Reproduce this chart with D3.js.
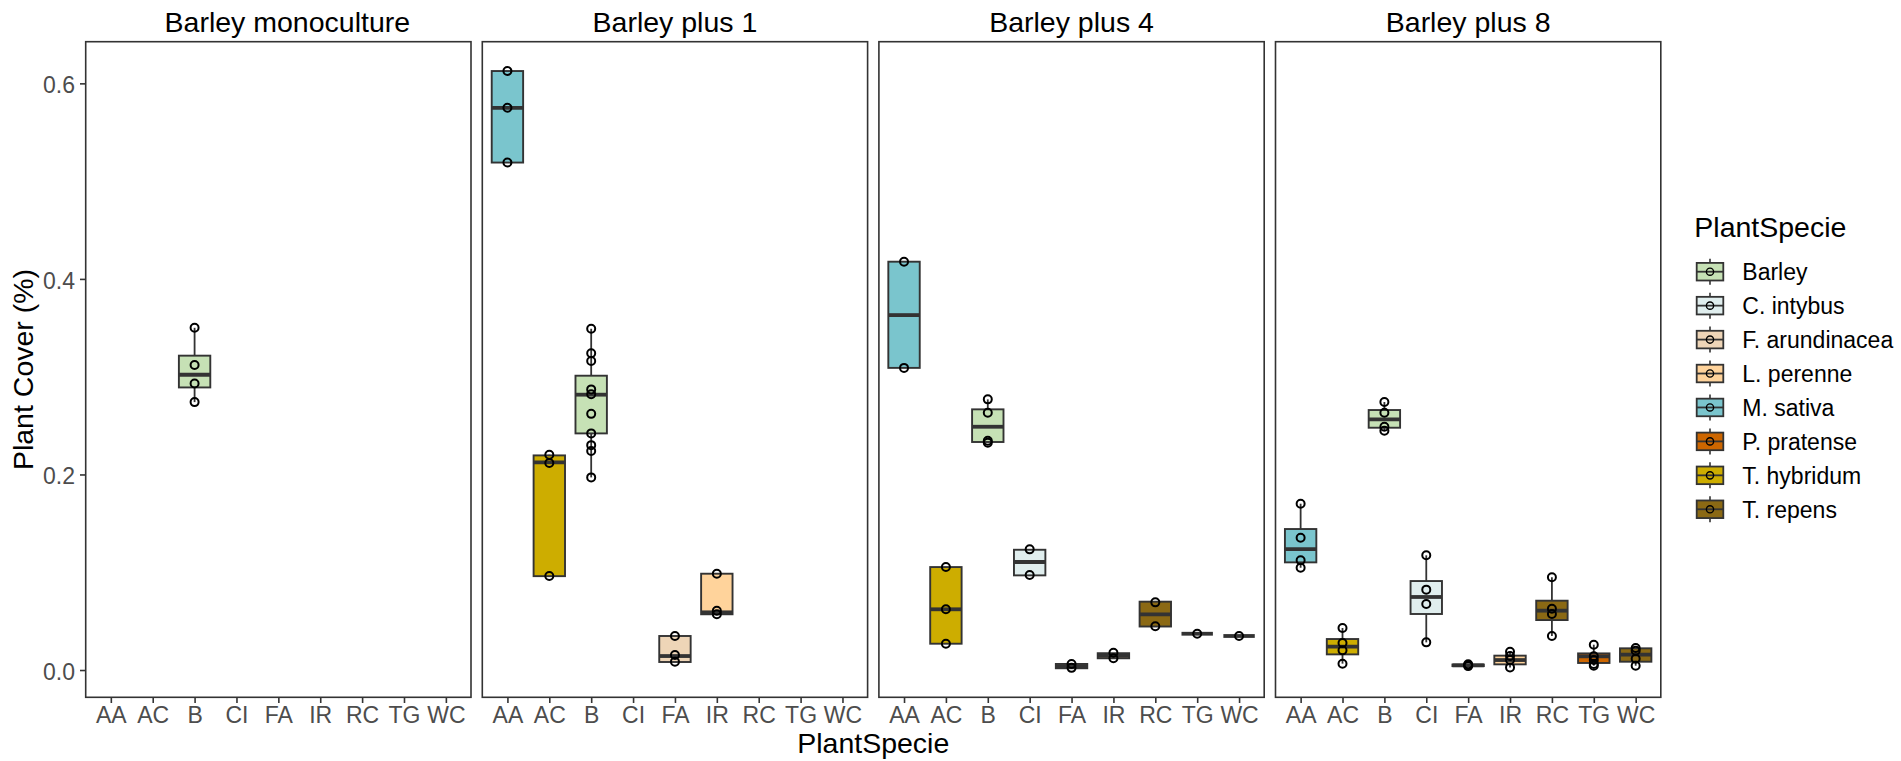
<!DOCTYPE html>
<html>
<head>
<meta charset="utf-8">
<script src="https://cdn.jsdelivr.net/npm/d3@7"></script>
<style>
  body { margin: 0; background: #fff; }
  svg { display: block; font-family: "Liberation Sans", Arial, Helvetica, sans-serif; }
</style>
</head>
<body>
<svg id="chart" width="1901" height="761"></svg>
<script>
// Facets (one panel each) and the species codes on the x axis
const facets = ["Barley monoculture", "Barley plus 1", "Barley plus 4", "Barley plus 8"];
const categories = ["AA", "AC", "B", "CI", "FA", "IR", "RC", "TG", "WC"];
// Species that each code belongs to (fill colour key)
const codeSpecies = ["M. sativa", "T. hybridum", "Barley", "C. intybus", "F. arundinacea",
                     "L. perenne", "T. repens", "P. pratense", "T. repens"];
const species = ["Barley", "C. intybus", "F. arundinacea", "L. perenne",
                 "M. sativa", "P. pratense", "T. hybridum", "T. repens"];
const speciesColors = ["#C6E1B5", "#E0EEEE", "#EED5B7", "#FFD39B",
                       "#7AC5CD", "#CD6600", "#CDAD00", "#8B6914"];
const yTicks = [0, 0.2, 0.4, 0.6];

// Box summaries per facet: [code, [lower whisker, Q1, median, Q3, upper whisker], observations]
const monoBoxes = [
  ["B", [0.274, 0.289, 0.302, 0.3215, 0.350], [0.350, 0.312, 0.293, 0.274]]
];
const plus1Boxes = [
  ["AA", [0.519, 0.519, 0.575, 0.6126, 0.6126], [0.6126, 0.575, 0.519]],
  ["AC", [0.096, 0.096, 0.2124, 0.2195, 0.2202], [0.2202, 0.2117, 0.0961]],
  ["B",  [0.197, 0.242, 0.2816, 0.301, 0.349],
         [0.349, 0.324, 0.316, 0.287, 0.282, 0.262, 0.242, 0.230, 0.224, 0.197]],
  ["FA", [0.0082, 0.0082, 0.0143, 0.0348, 0.0348], [0.0348, 0.0153, 0.0085]],
  ["IR", [0.057, 0.057, 0.059, 0.0985, 0.0985], [0.0985, 0.0607, 0.057]]
];
const plus4Boxes = [
  ["AA", [0.309, 0.309, 0.363, 0.4176, 0.4176], [0.4176, 0.309]],
  ["AC", [0.0269, 0.0269, 0.0621, 0.1053, 0.1053], [0.1053, 0.0621, 0.0269]],
  ["B",  [0.2332, 0.2332, 0.2488, 0.2666, 0.2768], [0.2768, 0.2632, 0.2345, 0.2325]],
  ["CI", [0.0968, 0.0968, 0.1105, 0.123, 0.123], [0.1234, 0.0972]],
  ["FA", [0.0018, 0.0018, 0.004, 0.0062, 0.0062], [0.0061, 0.0022]],
  ["IR", [0.012, 0.012, 0.0145, 0.0172, 0.0172], [0.0177, 0.012]],
  ["RC", [0.0445, 0.0445, 0.057, 0.0699, 0.0699], [0.0692, 0.0447]],
  ["TG", [0.0371, 0.0371, 0.0371, 0.0371, 0.0371], [0.0371]],
  ["WC", [0.0348, 0.0348, 0.0348, 0.0348, 0.0348], [0.0348]]
];
const plus8Boxes = [
  ["AA", [0.1046, 0.1101, 0.1237, 0.1442, 0.1701], [0.1701, 0.1353, 0.1122, 0.1046]],
  ["AC", [0.0065, 0.016, 0.0239, 0.0317, 0.043], [0.043, 0.0276, 0.0201, 0.0065]],
  ["B",  [0.2447, 0.2478, 0.2564, 0.2659, 0.2741], [0.2741, 0.2632, 0.2488, 0.2447]],
  ["CI", [0.0283, 0.0573, 0.0747, 0.091, 0.1173], [0.1173, 0.0822, 0.0675, 0.0283]],
  ["FA", [0.0038, 0.004, 0.0048, 0.0056, 0.0058], [0.0058, 0.0048, 0.004]],
  ["IR", [0.0027, 0.0058, 0.0102, 0.0147, 0.0187], [0.0187, 0.0143, 0.0102, 0.0027]],
  ["RC", [0.0348, 0.0511, 0.0607, 0.0709, 0.0948], [0.0948, 0.0627, 0.0573, 0.0348]],
  ["TG", [0.0044, 0.0072, 0.014, 0.017, 0.0259], [0.0259, 0.014, 0.0102, 0.0061, 0.0044]],
  ["WC", [0.0044, 0.0085, 0.0157, 0.0222, 0.0225], [0.0225, 0.0198, 0.0116, 0.0044]]
];
const facetBoxes = [monoBoxes, plus1Boxes, plus4Boxes, plus8Boxes];

// Layout
const panelLeft = 85.7, panelTop = 41.7, panelW = 385.3, panelH = 655.6, gap = 11.3;
const panelBottom = panelTop + panelH;
const firstStripShift = 9; // the first strip label sits a little right of centre
const ink = "#333333";

const svg = d3.select("#chart");

const y = d3.scaleLinear().domain([-0.0279, 0.6426]).range([panelBottom, panelTop]);
const x = d3.scalePoint().domain(categories).range([0, panelW]).padding(0.6);
const boxW = x.step() * 0.75;
const fill = d3.scaleOrdinal().domain(species).range(speciesColors);
const speciesByCode = new Map(categories.map((c, i) => [c, codeSpecies[i]]));

facets.forEach((name, i) => {
  const g = svg.append("g").attr("transform", `translate(${panelLeft + i * (panelW + gap)},0)`);

  // strip title
  g.append("text")
    .attr("x", panelW / 2 + (i === 0 ? firstStripShift : 0)).attr("y", 31.7)
    .attr("text-anchor", "middle")
    .attr("font-size", 28.5).attr("fill", "#000")
    .text(name);

  // x axis
  const xa = g.append("g").attr("transform", `translate(0,${panelBottom})`)
    .call(d3.axisBottom(x).tickSize(5.7).tickPadding(3.2));
  xa.select(".domain").remove();
  xa.selectAll(".tick line").attr("stroke", ink).attr("stroke-width", 1.6);
  xa.selectAll(".tick text").attr("fill", "#4D4D4D").attr("font-size", 23)
    .attr("font-family", "Liberation Sans, Arial, sans-serif");

  if (i === 0) {
    const ya = g.append("g")
      .call(d3.axisLeft(y).tickValues(yTicks).tickFormat(d3.format(".1f")).tickSize(5.7).tickPadding(5));
    ya.select(".domain").remove();
    ya.selectAll(".tick line").attr("stroke", ink).attr("stroke-width", 1.6);
    ya.selectAll(".tick text").attr("fill", "#4D4D4D").attr("font-size", 23)
      .attr("dy", "0.4em").attr("font-family", "Liberation Sans, Arial, sans-serif");
  }

  const boxes = facetBoxes[i];
  const bg = g.selectAll("g.box").data(boxes).join("g").attr("class", "box")
    .attr("transform", d => `translate(${x(d[0])},0)`);

  // whiskers
  bg.append("line").attr("x1", 0).attr("x2", 0)
    .attr("y1", d => y(d[1][4])).attr("y2", d => y(d[1][3]))
    .attr("stroke", ink).attr("stroke-width", 1.8);
  bg.append("line").attr("x1", 0).attr("x2", 0)
    .attr("y1", d => y(d[1][1])).attr("y2", d => y(d[1][0]))
    .attr("stroke", ink).attr("stroke-width", 1.8);
  // box
  bg.append("rect")
    .attr("x", -boxW / 2).attr("width", boxW)
    .attr("y", d => y(d[1][3]))
    .attr("height", d => Math.max(0, y(d[1][1]) - y(d[1][3])))
    .attr("fill", d => fill(speciesByCode.get(d[0])))
    .attr("stroke", ink).attr("stroke-width", 1.9);
  // median
  bg.append("line")
    .attr("x1", -boxW / 2).attr("x2", boxW / 2)
    .attr("y1", d => y(d[1][2])).attr("y2", d => y(d[1][2]))
    .attr("stroke", ink).attr("stroke-width", 3.8);
  // observations
  bg.selectAll("circle").data(d => d[2]).join("circle")
    .attr("cx", 0).attr("cy", v => y(v)).attr("r", 4)
    .attr("fill", "none").attr("stroke", "#000").attr("stroke-width", 2);

  // panel border
  g.append("rect").attr("x", 0).attr("y", panelTop).attr("width", panelW).attr("height", panelH)
    .attr("fill", "none").attr("stroke", ink).attr("stroke-width", 1.6);
});

// axis titles
svg.append("text")
  .attr("transform", `translate(33,${(panelTop + panelBottom) / 2}) rotate(-90)`)
  .attr("text-anchor", "middle").attr("font-size", 28.5).attr("fill", "#000")
  .text("Plant Cover (%)");
svg.append("text")
  .attr("x", panelLeft + (4 * panelW + 3 * gap) / 2).attr("y", 753)
  .attr("text-anchor", "middle").attr("font-size", 28.5).attr("fill", "#000")
  .text("PlantSpecie");

// legend
const lg = svg.append("g");
lg.append("text").attr("x", 1694.3).attr("y", 236.7)
  .attr("font-size", 28.5).attr("fill", "#000").text("PlantSpecie");
const keyX = 1710, keyY0 = 271.7, keyStep = 33.94;
const keys = lg.selectAll("g.key").data(species).join("g").attr("class", "key")
  .attr("transform", (d, i) => `translate(${keyX},${keyY0 + i * keyStep})`);
keys.append("line").attr("x1", 0).attr("x2", 0).attr("y1", -13).attr("y2", 13)
  .attr("stroke", ink).attr("stroke-width", 1.6);
keys.append("rect").attr("x", -13.3).attr("y", -8.8).attr("width", 26.6).attr("height", 17.6)
  .attr("fill", d => fill(d)).attr("stroke", ink).attr("stroke-width", 1.8);
keys.append("line").attr("x1", -13.3).attr("x2", 13.3).attr("y1", 0).attr("y2", 0)
  .attr("stroke", ink).attr("stroke-width", 1.8);
keys.append("circle").attr("r", 3.6).attr("fill", "none").attr("stroke", "#000").attr("stroke-width", 1.4);
keys.append("text").attr("x", 32.3).attr("y", 8.3)
  .attr("font-size", 23).attr("fill", "#000").text(d => d);
</script>
</body>
</html>
